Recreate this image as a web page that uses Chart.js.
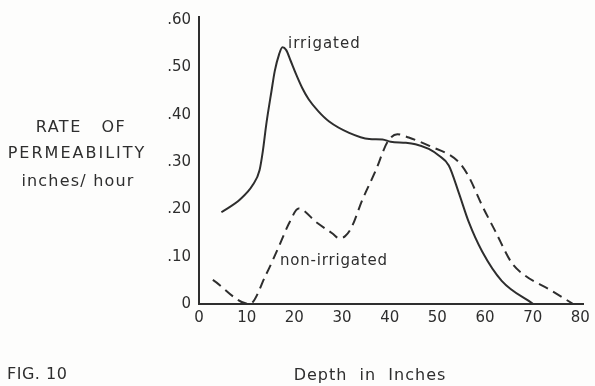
<!DOCTYPE html>
<html>
<head>
<meta charset="utf-8">
<script src="https://cdn.jsdelivr.net/npm/chart.js@4"></script>
<style>
    html, body { margin: 0; padding: 0; background: #fdfdfc; }
    #wrap { width: 595px; height: 386px; }
</style>
</head>
<body>
<div id="wrap"><canvas id="permChart" width="595" height="386"></canvas></div>
<script>
// Values
const irrigatedDepth = [4.7, 8.6, 11.3, 12.7, 13.4, 14.1, 15.2, 15.9, 16.8, 17.5, 18.3, 19.2, 20.4, 21.6, 23.0, 25.0, 27.3, 31.5, 35.7, 38.5, 40.2, 43.4, 45.4, 48.2, 50.3, 52.4, 54.5, 56.6, 59.4, 63.5, 70.1];
const irrigatedRate = [0.194, 0.221, 0.252, 0.283, 0.324, 0.379, 0.45, 0.493, 0.528, 0.543, 0.537, 0.515, 0.485, 0.458, 0.433, 0.408, 0.386, 0.362, 0.349, 0.348, 0.343, 0.341, 0.338, 0.328, 0.314, 0.293, 0.235, 0.173, 0.111, 0.049, 0.0];

const nonIrrigatedDepth = [2.9, 10.6, 14.1, 16.9, 19.0, 20.9, 24.6, 28.0, 29.4, 30.6, 31.9, 34.3, 37.1, 39.5, 41.6, 44.0, 48.2, 54.5, 56.6, 59.4, 62.2, 65.6, 68.4, 73.3, 78.5];
const nonIrrigatedRate = [0.051, 0.0, 0.063, 0.125, 0.173, 0.202, 0.173, 0.149, 0.139, 0.143, 0.16, 0.221, 0.283, 0.342, 0.359, 0.352, 0.335, 0.30, 0.269, 0.208, 0.153, 0.087, 0.06, 0.032, 0.0];

const xTicks = [0, 10, 20, 30, 40, 50, 60, 70, 80];
const xTickLabels = ['0', '10', '20', '30', '40', '50', '60', '70', '80'];
const yTicks = [0, 0.1, 0.2, 0.3, 0.4, 0.5, 0.6];
const yTickLabels = ['0', '.10', '.20', '.30', '.40', '.50', '.60'];

const ink = '#2e2e2e';
const font = '"DejaVu Sans", sans-serif';

function toPoints(xs, ys) {
    return xs.map((x, i) => ({ x: x, y: ys[i] }));
}

// Free text around the plot (axis titles, curve labels, figure number)
const textPlugin = {
    id: 'figText',
    afterDraw(chart) {
        const ctx = chart.ctx;
        ctx.save();
        ctx.fillStyle = ink;
        ctx.textBaseline = 'middle';

        const put = (txt, x, y, size, align, spacing) => {
            ctx.font = size + 'px ' + font;
            ctx.textAlign = align;
            ctx.letterSpacing = spacing + 'px';
            ctx.fillText(txt, x, y);
        };

        put('RATE   OF', 81, 128, 16, 'center', 1.5);
        put('PERMEABILITY', 77, 154, 16, 'center', 2);
        put('inches/ hour', 78, 182, 16, 'center', 1.2);

        put('irrigated', 288, 44, 15, 'left', 1);
        put('non-irrigated', 280, 261, 15, 'left', 0.8);

        put('FIG. 10', 7, 375, 16, 'left', 0.5);
        put('Depth  in  Inches', 370, 376, 16, 'center', 1);
        ctx.restore();
    }
};

const ctx = document.getElementById('permChart').getContext('2d');

new Chart(ctx, {
    type: 'line',
    data: {
        datasets: [
            {
                label: 'irrigated',
                data: toPoints(irrigatedDepth, irrigatedRate),
                borderColor: ink,
                borderWidth: 2,
                pointRadius: 0,
                cubicInterpolationMode: 'monotone',
                fill: false
            },
            {
                label: 'non-irrigated',
                data: toPoints(nonIrrigatedDepth, nonIrrigatedRate),
                borderColor: ink,
                borderWidth: 2,
                borderDash: [10, 6],
                pointRadius: 0,
                cubicInterpolationMode: 'monotone',
                fill: false
            }
        ]
    },
    options: {
        responsive: false,
        animation: false,
        events: [],
        layout: { padding: { top: 10, right: 10, left: 0, bottom: 0 } },
        plugins: {
            legend: { display: false },
            tooltip: { enabled: false }
        },
        scales: {
            x: {
                type: 'linear',
                min: 0,
                max: 80.7,
                grid: { display: false, drawTicks: false },
                border: { display: true, color: ink, width: 2 },
                afterBuildTicks: (scale) => { scale.ticks = xTicks.map(v => ({ value: v })); },
                afterFit: (scale) => { scale.height = 82; },
                ticks: {
                    color: ink,
                    padding: 5,
                    maxRotation: 0,
                    autoSkip: false,
                    font: { family: font, size: 15 },
                    callback: (v) => xTickLabels[xTicks.indexOf(v)]
                }
            },
            y: {
                type: 'linear',
                min: 0,
                max: 0.607,
                grid: { display: false, drawTicks: false },
                border: { display: true, color: ink, width: 2 },
                afterBuildTicks: (scale) => { scale.ticks = yTicks.map(v => ({ value: v })); },
                afterFit: (scale) => { scale.width = 199; },
                ticks: {
                    color: ink,
                    padding: 8,
                    autoSkip: false,
                    font: { family: font, size: 15 },
                    callback: (v) => yTickLabels[yTicks.findIndex(t => Math.abs(t - v) < 1e-6)]
                }
            }
        }
    },
    plugins: [textPlugin]
});
</script>
</body>
</html>
